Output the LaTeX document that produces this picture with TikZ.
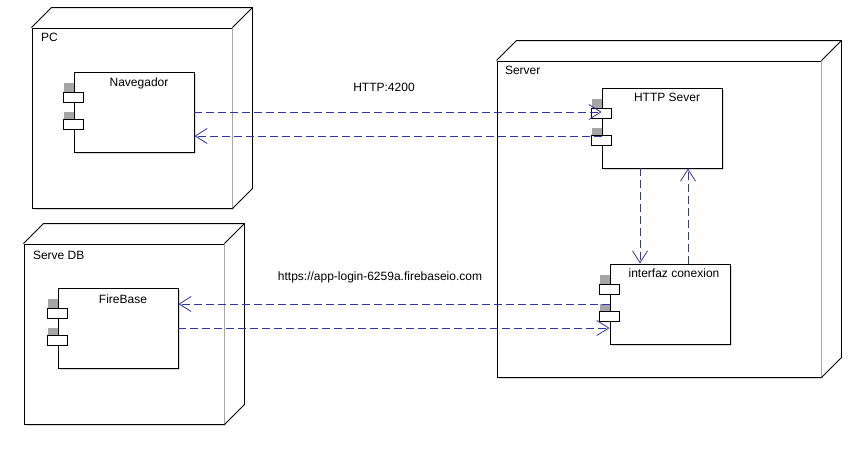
\documentclass[tikz,border=0pt]{standalone}
\usepackage{fontspec}
\setmainfont{Liberation Sans}
\usetikzlibrary{positioning,arrows.meta,shadows}

\definecolor{deplink}{RGB}{51,51,170}

% top and right faces of a 3D deployment node
\newcommand{\nodedepth}[1]{%
  \fill[white] (#1.north west) -- ([shift={(20,-20)}]#1.north west)
    -- ([shift={(20,-20)}]#1.north east) -- ([shift={(20,-20)}]#1.south east)
    -- (#1.south east) -- (#1.north east) -- cycle;
  \draw (#1.north west) -- ([shift={(20,-20)}]#1.north west)
    -- ([shift={(20,-20)}]#1.north east) -- ([shift={(20,-20)}]#1.south east)
    -- (#1.south east);
  \draw (#1.north east) -- ([shift={(20,-20)}]#1.north east);}

\begin{document}
\begin{tikzpicture}[x=1pt, y=-1pt, line width=0.9pt,
    font=\fontsize{12}{14}\selectfont,
    boxnode/.style={rectangle, draw, fill=white, inner sep=0pt,
      drop shadow={shadow xshift=1.5pt, shadow yshift=-1.5pt, opacity=0.3}},
    compnode/.style={rectangle, draw, fill=white, inner sep=0pt,
      minimum width=120pt, minimum height=80pt,
      drop shadow={shadow xshift=1.5pt, shadow yshift=-1.5pt, opacity=0.3}},
    port/.style={rectangle, draw, fill=white, inner sep=0pt,
      minimum width=20pt, minimum height=10pt},
    portshade/.style={fill=black!35},
    title/.style={inner sep=0pt},
    dep/.style={draw=deplink, line width=0.8pt, dash pattern=on 8pt off 4pt,
      -{Straight Barb[length=12pt, width=15pt]}}]

    \useasboundingbox (0,0) rectangle (864,464);

    % deployment nodes
    \node[boxnode, minimum width=200pt, minimum height=180pt] (pc) at (132,118) {};
    \nodedepth{pc}
    \node[boxnode, minimum width=324pt, minimum height=316pt] (server) at (659,219) {};
    \nodedepth{server}
    \node[boxnode, minimum width=200pt, minimum height=180pt] (servedb) at (124,334) {};
    \nodedepth{servedb}

    \node[title, below right=5pt and 9pt of pc.north west] (pct) {PC};
    \node[title, below right=5pt and 8pt of server.north west] (servert) {Server};
    \node[title, below right=7pt and 9pt of servedb.north west] (servedbt) {Serve DB};

    % components
    \node[compnode] (nav) at (134,112) {};
    \node[compnode] (http) at (662,128) {};
    \node[compnode] (ifz) at (670,304) {};
    \node[compnode] (fb) at (118,328) {};

    \node[title, below=6pt of nav.north, xshift=5pt] (navt) {Navegador};
    \node[title, below=5pt of http.north, xshift=5pt] (httpt) {HTTP Sever};
    \node[title, below=5pt of ifz.north, xshift=4pt] (ifzt) {interfaz conexion};
    \node[title, below=7pt of fb.north, xshift=5pt] (fbt) {FireBase};

    \foreach \c in {nav,http,ifz,fb}{
        \fill[portshade] ([shift={(-10,11)}]\c.north west) rectangle ++(10,10);
        \fill[portshade] ([shift={(-10,40)}]\c.north west) rectangle ++(10,8);
        \node[port] (\c-p1) at ([shift={(0,26)}]\c.north west) {};
        \node[port] (\c-p2) at ([shift={(0,53)}]\c.north west) {};
    }

    % connectors
    \coordinate (navret) at ([yshift=-24pt]nav.east);
    \coordinate (httpdn) at ([xshift=-22pt]http.south);
    \coordinate (httpup) at ([xshift=26pt]http.south);

    \draw[dep] (nav.east) -- (nav.east -| http.west);
    \draw[dep] (navret -| http.west) -- (navret);
    \draw[dep] (httpdn) -- (httpdn |- ifz.north);
    \draw[dep] (httpup |- ifz.north) -- (httpup);
    \draw[dep] (ifz.west) -- (ifz.west -| fb.east);
    \draw[dep] (fb.east) -- (fb.east -| ifz.west);

    \node[title] (lblhttp) at (384,87) {HTTP:4200};
    \node[title] (lblfb) at (380,277) {https://app-login-6259a.firebaseio.com};

\end{tikzpicture}
\end{document}
